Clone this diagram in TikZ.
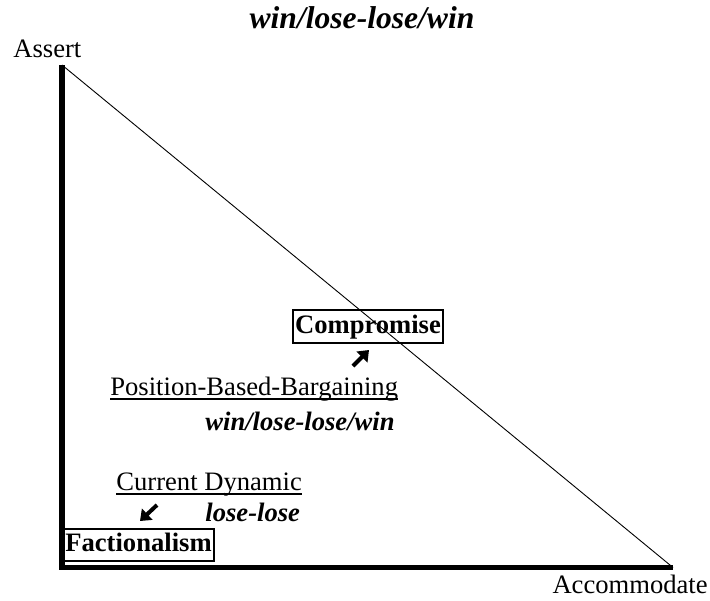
\documentclass[tikz,border=0pt]{standalone}
\usepackage{fontspec}
\setmainfont{Liberation Serif}
\usetikzlibrary{arrows.meta,positioning}
\definecolor{cmInk}{HTML}{000000}
\tikzset{
  cm axis/.style={draw=cmInk, line width=2.6pt, line join=miter},
  cm diagonal/.style={draw=cmInk, line width=.45pt},
  cm box/.style={draw=cmInk, line width=1pt, inner xsep=1pt, inner ysep=1.8pt,
    text height=9.6pt, text depth=2.9pt,
    font=\fontsize{13.3}{15}\selectfont\bfseries, text=cmInk},
  cm label/.style={font=\fontsize{13.3}{15}\selectfont, text=cmInk, inner sep=0pt},
  cm underline/.style={draw=cmInk, line width=.75pt},
  cm outcome/.style={font=\fontsize{13.3}{15}\selectfont\bfseries\itshape, text=cmInk, inner sep=0pt},
  cm title/.style={font=\fontsize{15.8}{18}\selectfont\bfseries\itshape, text=cmInk, inner sep=0pt},
  cm arrow/.style={draw=cmInk, line width=2pt, -{Triangle[length=5pt,width=7.5pt]}}
}
\begin{document}
\begin{tikzpicture}[x=.5pt,y=-.5pt]
  \useasboundingbox (0,0) rectangle (710,600);

  % axes and the line between the corners
  \coordinate (assert end) at (62,65);
  \coordinate (origin) at (62,567.5);
  \coordinate (accommodate end) at (673,567.5);
  \draw[cm axis] (assert end) -- (origin) -- (accommodate end);
  \draw[cm diagonal] (assert end) -- (accommodate end);

  \node[cm title, anchor=base] (title) at (362,28) {win/lose-lose/win};
  \node[cm label, anchor=base west] (assert) at (13,57) {Assert};
  \node[cm label, anchor=base east] (accommodate) at (708,593) {Accommodate};

  % outcomes
  \node[cm box] (compromise) at (368,326.5) {Compromise};
  \node[cm box] (factionalism) at (138.5,545) {Factionalism};

  \node[cm label, anchor=base west] (bargaining) at (110,395) {Position-Based-Bargaining};
  \draw[cm underline] ([yshift=-2pt]bargaining.base west) -- ([yshift=-2pt]bargaining.base east);
  \node[cm outcome, anchor=base west] (bargaining result) at (205,430) {win/lose-lose/win};
  \node[cm label, anchor=base west] (dynamic) at (116,490) {Current Dynamic};
  \draw[cm underline] ([yshift=-2pt]dynamic.base west) -- ([yshift=-2pt]dynamic.base east);
  \node[cm outcome, anchor=base west] (dynamic result) at (205,521) {lose-lose};

  % direction marks
  \coordinate (up start) at (353,366);
  \coordinate (up end) at (369,350);
  \draw[cm arrow] (up start) -- (up end);
  \coordinate (down start) at (157,505);
  \coordinate (down end) at (140,521);
  \draw[cm arrow] (down start) -- (down end);
\end{tikzpicture}
\end{document}
